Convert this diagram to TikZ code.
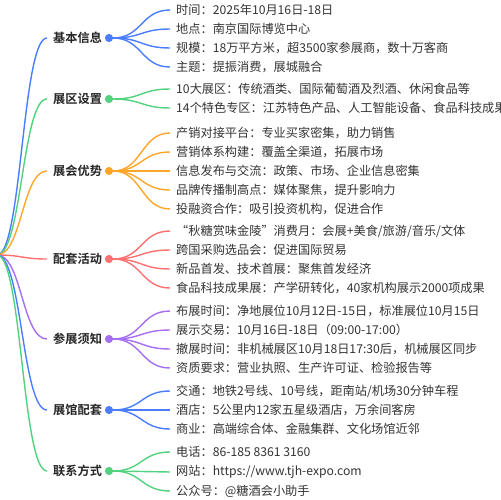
\documentclass[tikz,border=0pt]{standalone}
\usepackage{fontspec}
\setmainfont{Noto Sans CJK SC}[BoldFont={Noto Sans CJK SC Bold}]
\usepackage{tikz}
\definecolor{mmblue}{HTML}{4A7DFF}
\definecolor{mmgreen}{HTML}{52D27E}
\definecolor{mmorange}{HTML}{FFA62B}
\definecolor{mmred}{HTML}{FF7070}
\definecolor{mmpurple}{HTML}{A66EF0}
\definecolor{mmtext}{HTML}{333333}
\tikzset{branch/.style={
        anchor=west,
        inner xsep=0.18cm,
        inner ysep=0pt,
        font=\fontsize{10.4}{12}\selectfont\bfseries,
        text=black!85
}}
\tikzset{leaf/.style={
        anchor=west,
        inner xsep=0.18cm,
        inner ysep=0pt,
        font=\fontsize{10.4}{12}\selectfont,
        text=mmtext
}}
\tikzset{dot/.style={
        draw,
        circle,
        line width=1.2pt,
        fill=white,
        inner sep=0pt,
        minimum size=0.2cm
}}
\tikzset{link/.style={draw,line width=1.2pt}}

\begin{document}
\begin{tikzpicture}[x=0.03cm,y=-0.03cm]
\useasboundingbox (0,0) rectangle (500,500);
\coordinate (root) at (-3,255);

% branches
\node[branch] (b1) at (47,38) {基本信息};
\node[branch] (b2) at (47,99) {展区设置};
\node[branch] (b3) at (47,171) {展会优势};
\node[branch] (b4) at (47,259) {配套活动};
\node[branch] (b5) at (47,339) {参展须知};
\node[branch] (b6) at (47,410) {展馆配套};
\node[branch] (b7) at (47,471) {联系方式};
\node[dot, mmblue] (c1) at (109,38) {};
\node[dot, mmgreen] (c2) at (109,99) {};
\node[dot, mmorange] (c3) at (109,171) {};
\node[dot, mmred] (c4) at (109,259) {};
\node[dot, mmpurple] (c5) at (109,339) {};
\node[dot, mmblue] (c6) at (109,410) {};
\node[dot, mmgreen] (c7) at (109,471) {};

% leaves
\node[leaf] (l11) at (170,10) {时间：2025年10月16日-18日};
\node[leaf] (l12) at (170,29) {地点：南京国际博览中心};
\node[leaf] (l13) at (170,48) {规模：18万平方米，超3500家参展商，数十万客商};
\node[leaf] (l14) at (170,67) {主题：提振消费，展城融合};
\node[leaf] (l21) at (170,89) {10大展区：传统酒类、国际葡萄酒及烈酒、休闲食品等};
\node[leaf] (l22) at (170,108) {14个特色专区：江苏特色产品、人工智能设备、食品科技成果展};
\node[leaf] (l31) at (170,133) {产销对接平台：专业买家密集，助力销售};
\node[leaf] (l32) at (170,152) {营销体系构建：覆盖全渠道，拓展市场};
\node[leaf] (l33) at (170,171) {信息发布与交流：政策、市场、企业信息密集};
\node[leaf] (l34) at (170,190) {品牌传播制高点：媒体聚焦，提升影响力};
\node[leaf] (l35) at (170,209) {投融资合作：吸引投资机构，促进合作};
\node[leaf] (l41) at (170,231) {“秋糖赏味金陵”消费月：会展+美食/旅游/音乐/文体};
\node[leaf] (l42) at (170,250) {跨国采购选品会：促进国际贸易};
\node[leaf] (l43) at (170,269) {新品首发、技术首展：聚焦首发经济};
\node[leaf] (l44) at (170,288) {食品科技成果展：产学研转化，40家机构展示2000项成果};
\node[leaf] (l51) at (170,311) {布展时间：净地展位10月12日-15日，标准展位10月15日};
\node[leaf] (l52) at (170,330) {展示交易：10月16日-18日（09:00-17:00）};
\node[leaf] (l53) at (170,349) {撤展时间：非机械展区10月18日17:30后，机械展区同步};
\node[leaf] (l54) at (170,368) {资质要求：营业执照、生产许可证、检验报告等};
\node[leaf] (l61) at (170,391) {交通：地铁2号线、10号线，距南站/机场30分钟车程};
\node[leaf] (l62) at (170,410) {酒店：5公里内12家五星级酒店，万余间客房};
\node[leaf] (l63) at (170,429) {商业：高端综合体、金融集群、文化场馆近邻};
\node[leaf] (l71) at (170,452) {电话：86-185 8361 3160};
\node[leaf] (l72) at (170,472) {网站：https://www.tjh-expo.com};
\node[leaf] (l73) at (170,491) {公众号：@糖酒会小助手};

% root to branches
\draw[link, mmblue] (root) .. controls +(25,0) and +(-25,0) .. (b1.west);
\draw[link, mmgreen] (root) .. controls +(25,0) and +(-25,0) .. (b2.west);
\draw[link, mmorange] (root) .. controls +(25,0) and +(-25,0) .. (b3.west);
\draw[link, mmred] (root) .. controls +(25,0) and +(-25,0) .. (b4.west);
\draw[link, mmpurple] (root) .. controls +(25,0) and +(-25,0) .. (b5.west);
\draw[link, mmblue] (root) .. controls +(25,0) and +(-25,0) .. (b6.west);
\draw[link, mmgreen] (root) .. controls +(25,0) and +(-25,0) .. (b7.west);

% branches to leaves
\draw[link, mmblue] (c1.east) .. controls +(29,0) and +(-29,0) .. (l11.west);
\draw[link, mmblue] (c1.east) .. controls +(29,0) and +(-29,0) .. (l12.west);
\draw[link, mmblue] (c1.east) .. controls +(29,0) and +(-29,0) .. (l13.west);
\draw[link, mmblue] (c1.east) .. controls +(29,0) and +(-29,0) .. (l14.west);
\draw[link, mmgreen] (c2.east) .. controls +(29,0) and +(-29,0) .. (l21.west);
\draw[link, mmgreen] (c2.east) .. controls +(29,0) and +(-29,0) .. (l22.west);
\draw[link, mmorange] (c3.east) .. controls +(29,0) and +(-29,0) .. (l31.west);
\draw[link, mmorange] (c3.east) .. controls +(29,0) and +(-29,0) .. (l32.west);
\draw[link, mmorange] (c3.east) .. controls +(29,0) and +(-29,0) .. (l33.west);
\draw[link, mmorange] (c3.east) .. controls +(29,0) and +(-29,0) .. (l34.west);
\draw[link, mmorange] (c3.east) .. controls +(29,0) and +(-29,0) .. (l35.west);
\draw[link, mmred] (c4.east) .. controls +(29,0) and +(-29,0) .. (l41.west);
\draw[link, mmred] (c4.east) .. controls +(29,0) and +(-29,0) .. (l42.west);
\draw[link, mmred] (c4.east) .. controls +(29,0) and +(-29,0) .. (l43.west);
\draw[link, mmred] (c4.east) .. controls +(29,0) and +(-29,0) .. (l44.west);
\draw[link, mmpurple] (c5.east) .. controls +(29,0) and +(-29,0) .. (l51.west);
\draw[link, mmpurple] (c5.east) .. controls +(29,0) and +(-29,0) .. (l52.west);
\draw[link, mmpurple] (c5.east) .. controls +(29,0) and +(-29,0) .. (l53.west);
\draw[link, mmpurple] (c5.east) .. controls +(29,0) and +(-29,0) .. (l54.west);
\draw[link, mmblue] (c6.east) .. controls +(29,0) and +(-29,0) .. (l61.west);
\draw[link, mmblue] (c6.east) .. controls +(29,0) and +(-29,0) .. (l62.west);
\draw[link, mmblue] (c6.east) .. controls +(29,0) and +(-29,0) .. (l63.west);
\draw[link, mmgreen] (c7.east) .. controls +(29,0) and +(-29,0) .. (l71.west);
\draw[link, mmgreen] (c7.east) .. controls +(29,0) and +(-29,0) .. (l72.west);
\draw[link, mmgreen] (c7.east) .. controls +(29,0) and +(-29,0) .. (l73.west);
\end{tikzpicture}
\end{document}
